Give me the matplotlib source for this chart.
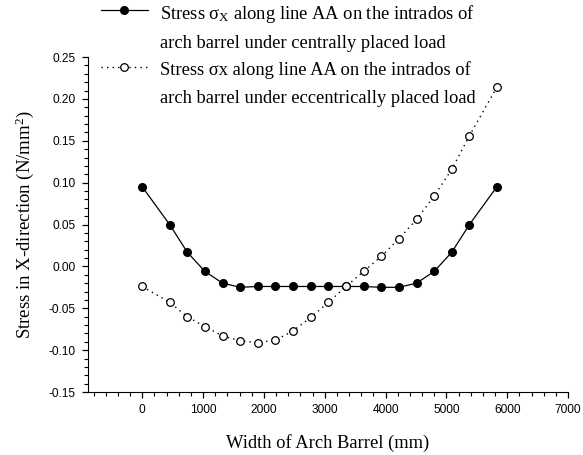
import matplotlib
matplotlib.use("Agg")
import matplotlib.pyplot as plt
from matplotlib.ticker import MultipleLocator, FormatStrFormatter
from matplotlib.lines import Line2D

# width positions along arch barrel (mm)
width = [0, 450, 740, 1030, 1320, 1610, 1900, 2190, 2480, 2770,
         3060, 3350, 3640, 3930, 4220, 4510, 4800, 5090, 5380, 5830]

# stress sigma_x, centrally placed load (N/mm2)
stress_central = [0.095, 0.050, 0.017, -0.006, -0.020, -0.025, -0.024, -0.024, -0.024, -0.024,
                  -0.024, -0.024, -0.024, -0.025, -0.025, -0.020, -0.006, 0.017, 0.050, 0.095]

# stress sigma_x, eccentrically placed load (N/mm2)
stress_eccentric = [-0.024, -0.043, -0.060, -0.072, -0.083, -0.089, -0.091, -0.088, -0.077, -0.061,
                    -0.043, -0.024, -0.006, 0.012, 0.033, 0.056, 0.084, 0.116, 0.156, 0.214]

legend_lines = ["Stress σ$_\\mathrm{X}$ along line AA on the intrados of",
                "arch barrel under centrally placed load",
                "Stress σx along line AA on the intrados of",
                "arch barrel under eccentrically placed load"]

plt.rcParams['mathtext.fontset'] = 'custom'
plt.rcParams['mathtext.rm'] = 'Liberation Serif'
plt.rcParams['mathtext.it'] = 'Liberation Serif:italic'

serif = 'Liberation Serif'
sans = 'Liberation Sans'

fig = plt.figure(figsize=(5.83, 4.55), dpi=100)
ax = fig.add_axes([87.5/583, 1-392/455, (568-87.5)/583, (392-57)/455])

l1, = ax.plot(width, stress_central, color='black', linewidth=0.9, marker='o', markersize=5.5,
              markerfacecolor='black', markeredgecolor='black', zorder=2)
l2, = ax.plot(width, stress_eccentric, color='black', linewidth=1.0, linestyle=(0, (1, 3)), marker='o',
              markersize=5.5, markerfacecolor='white', markeredgecolor='black', markeredgewidth=0.9,
              zorder=3)

ax.set_xlim(-900, 7000)
ax.set_ylim(-0.15, 0.25)
ax.set_xticks([0, 1000, 2000, 3000, 4000, 5000, 6000, 7000])
ax.xaxis.set_minor_locator(MultipleLocator(200))
ax.yaxis.set_major_locator(MultipleLocator(0.05))
ax.yaxis.set_minor_locator(MultipleLocator(0.01))
ax.yaxis.set_major_formatter(FormatStrFormatter('%.2f'))

ax.spines['top'].set_visible(False)
ax.spines['right'].set_visible(False)
ax.tick_params(which='major', length=4.5, width=0.9, labelsize=8.6, pad=4)
ax.tick_params(which='minor', length=2.8, width=0.8)
for t in ax.get_xticklabels() + ax.get_yticklabels():
    t.set_fontfamily(sans)

ax.set_xlabel("Width of Arch Barrel (mm)", fontfamily=serif, fontsize=13.3, labelpad=13)
ax.set_ylabel("Stress in X-direction (N/mm$^2$)", fontfamily=serif, fontsize=13.5, labelpad=9)

blank = Line2D([], [], linestyle='none', marker='none')
leg = fig.legend([l1, blank, l2, blank], legend_lines, loc='upper left',
                 bbox_to_anchor=(100/583, 1 - 1/455), frameon=False,
                 prop={'family': serif, 'size': 13.3}, handlelength=2.55, handletextpad=0.65,
                 handleheight=1.45, labelspacing=0.3, borderpad=0.05, borderaxespad=0.0)

fig.savefig("out.png", dpi=100)
